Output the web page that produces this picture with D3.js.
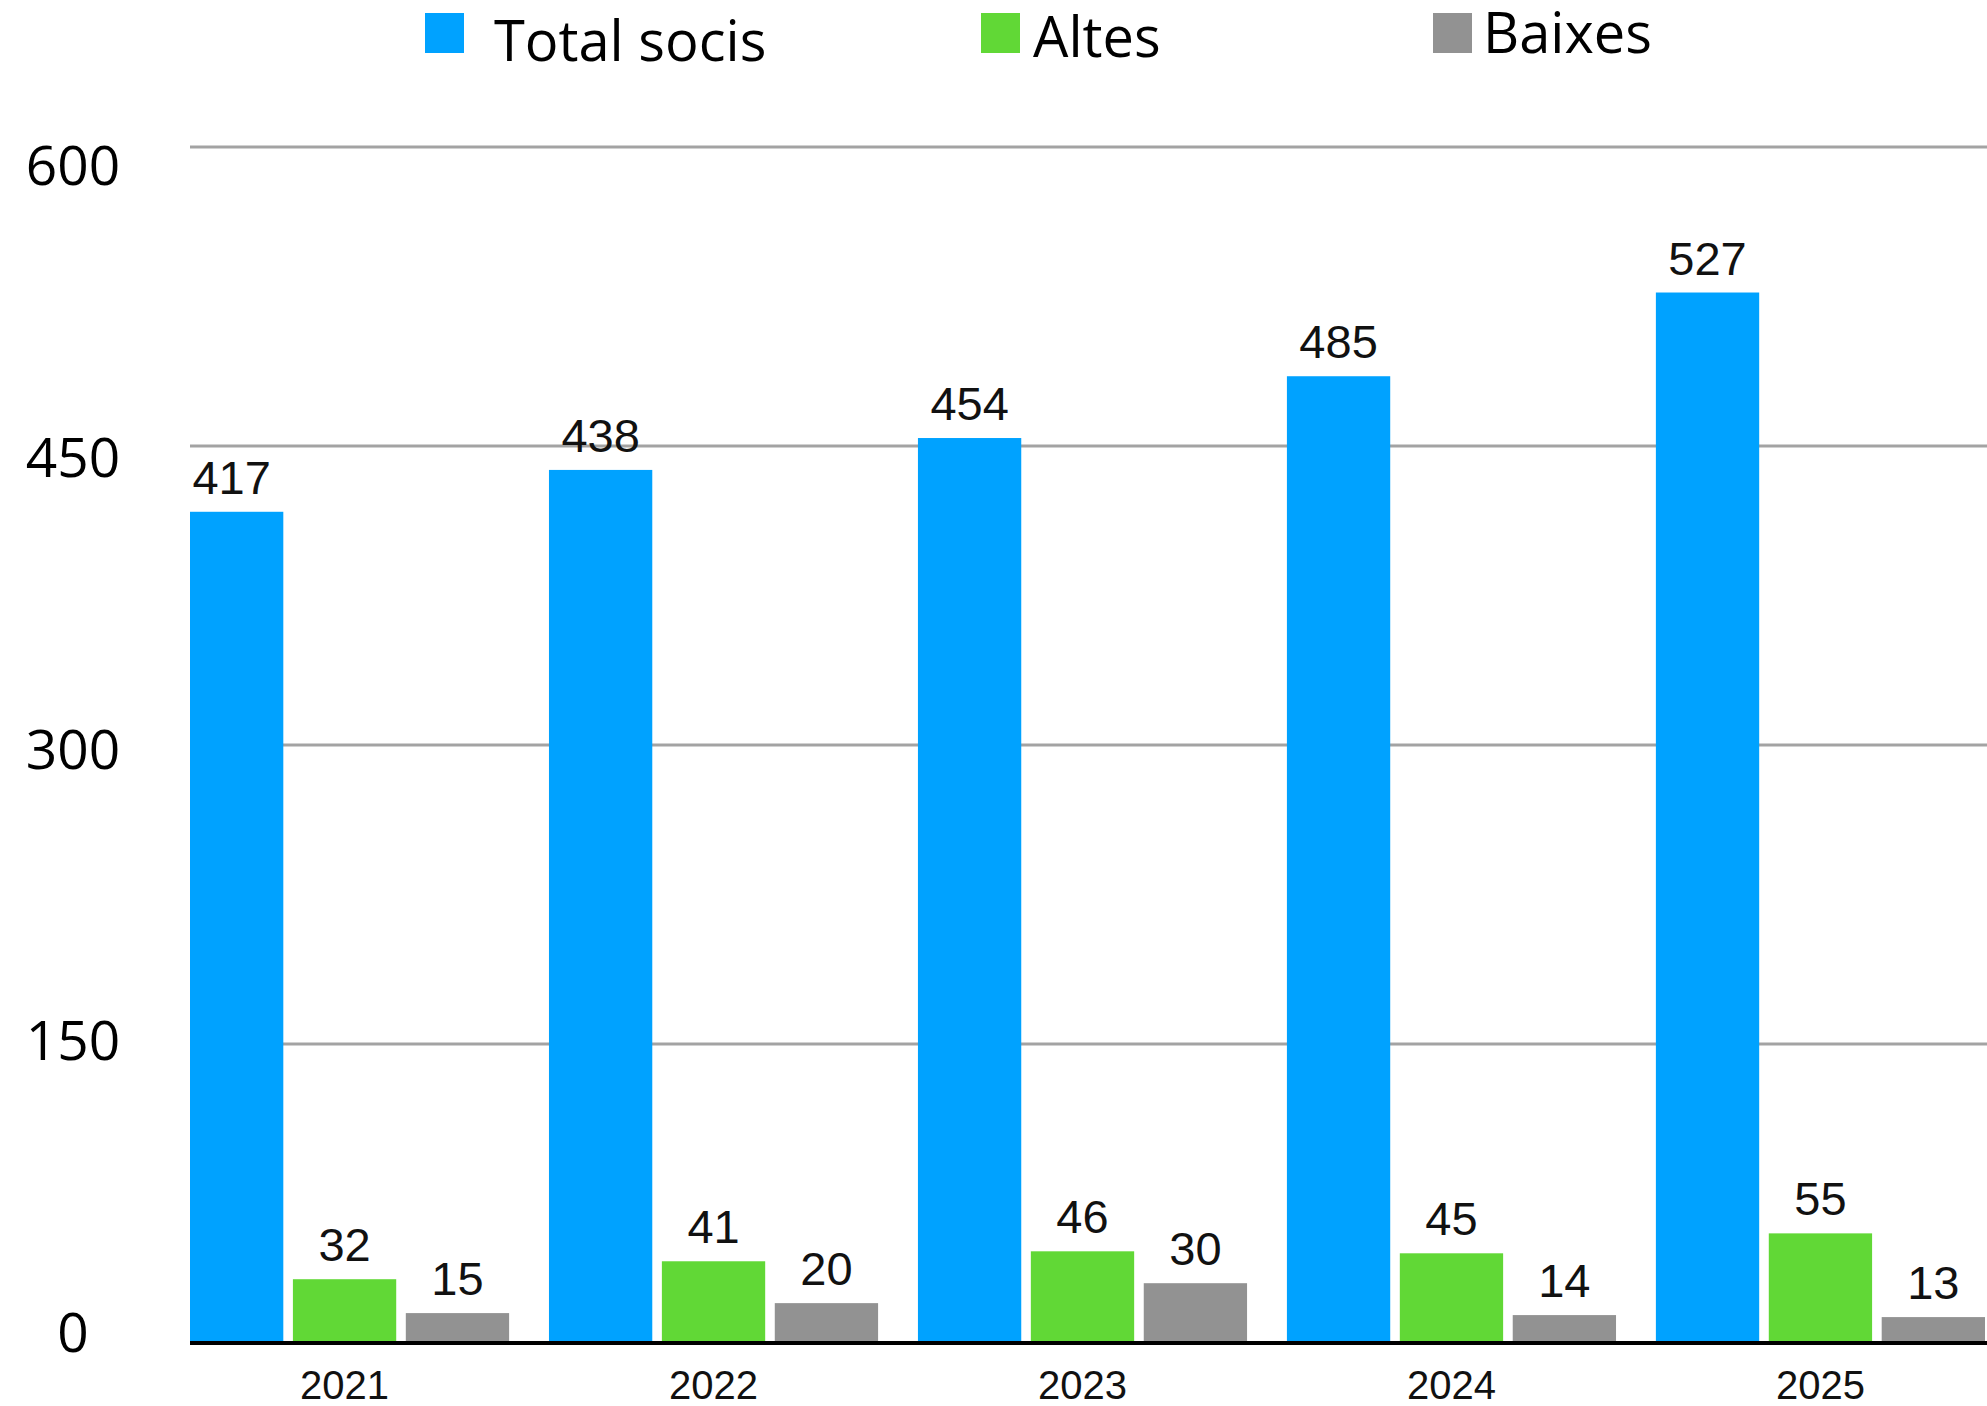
<!DOCTYPE html>
<html>
<head>
<meta charset="utf-8">
<script src="https://cdn.jsdelivr.net/npm/d3@7"></script>
<style>
html,body{margin:0;padding:0;background:#fff;}
svg{display:block;}
</style>
</head>
<body>
<script>
const years = ["2021","2022","2023","2024","2025"];
const seriesNames = ["Total socis","Altes","Baixes"];
const totalSocis = [417,438,454,485,527];
const altes = [32,41,46,45,55];
const baixes = [15,20,30,14,13];
const yTicks = [0,150,300,450,600];
const colors = ["#00a2ff","#61d836","#929292"];

const W = 1987, H = 1406;
const svg = d3.select("body").append("svg").attr("width", W).attr("height", H);

const plotLeft = 190, plotRight = 1987, yBottom = 1343, yTop = 147;
const y = d3.scaleLinear().domain([0,600]).range([yBottom, yTop]);
// tick labels sit on slightly different positions in the original
const yLabel = d3.scaleLinear().domain([0,600]).range([1352, 185]);

const x0 = d3.scaleBand().domain(years).range([180, 180 + 5*369 - 40]).paddingInner(0.108).paddingOuter(0);
const x1 = d3.scaleBand().domain(seriesNames).range([0, x0.bandwidth()]).paddingInner(0.085).paddingOuter(0);

const values = [totalSocis, altes, baixes];
const data = years.map((yr,i)=>({year:yr, vals: seriesNames.map((s,j)=>({name:s, v: values[j][i], c: colors[j]}))}));

// gridlines
svg.append("g").selectAll("line").data(yTicks.filter(t=>t>0)).join("line")
  .attr("x1", plotLeft).attr("x2", plotRight)
  .attr("y1", d=>y(d)).attr("y2", d=>y(d))
  .attr("stroke", "#a3a3a3").attr("stroke-width", 3);

// y tick labels
svg.append("g").selectAll("text").data(yTicks).join("text")
  .attr("x", 73).attr("y", d=>yLabel(d))
  .attr("text-anchor","middle")
  .attr("font-family","'Open Sans', sans-serif").attr("font-size", 55)
  .attr("fill","#000")
  .text(d=>d);

svg.append("defs").append("clipPath").attr("id","plotclip")
  .append("rect").attr("x", plotLeft).attr("y", 0).attr("width", plotRight-plotLeft).attr("height", H);

const barsG = svg.append("g").attr("clip-path","url(#plotclip)");
barsG.selectAll("g").data(data).join("g")
  .attr("transform", d=>`translate(${x0(d.year)},0)`)
  .selectAll("rect").data(d=>d.vals).join("rect")
  .attr("x", d=>x1(d.name)).attr("width", x1.bandwidth())
  .attr("y", d=>y(d.v)).attr("height", d=>yBottom - y(d.v))
  .attr("fill", d=>d.c);

// value labels
const groups = svg.append("g").selectAll("g").data(data).join("g")
  .attr("transform", d=>`translate(${x0(d.year)},0)`);
groups.selectAll("text").data(d=>d.vals).join("text")
  .attr("x", d=>x1(d.name) + x1.bandwidth()/2)
  .attr("y", d=>y(d.v) - 18)
  .attr("text-anchor","middle")
  .attr("font-family","'Liberation Sans', Arial, sans-serif").attr("font-size", 47)
  .attr("fill","#111")
  .text(d=>d.v);

// x axis
const xAxis = d3.axisBottom(x0).tickSize(0).tickPadding(0);
const ax = svg.append("g").attr("transform", `translate(0,${yBottom})`).call(xAxis);
ax.select(".domain").remove();
ax.selectAll("text")
  .attr("y", 56).attr("dy", 0)
  .attr("font-family","'Liberation Sans', Arial, sans-serif").attr("font-size", 40)
  .attr("fill","#111");
svg.append("line").attr("x1", plotLeft).attr("x2", plotRight)
  .attr("y1", yBottom).attr("y2", yBottom)
  .attr("stroke","#000").attr("stroke-width", 4);

// legend
const legendPos = [
  {sx:425, tx:494, ty:61},
  {sx:981, tx:1033, ty:57},
  {sx:1433, tx:1483, ty:53}
];
const lg = svg.append("g");
seriesNames.forEach((s,i)=>{
  lg.append("rect").attr("x", legendPos[i].sx).attr("y", 13).attr("width", 39).attr("height", 40).attr("fill", colors[i]);
  lg.append("text").attr("x", legendPos[i].tx).attr("y", legendPos[i].ty)
    .attr("font-family","'Open Sans', sans-serif").attr("font-size", 56)
    .attr("fill","#000").text(s);
});
</script>
</body>
</html>
